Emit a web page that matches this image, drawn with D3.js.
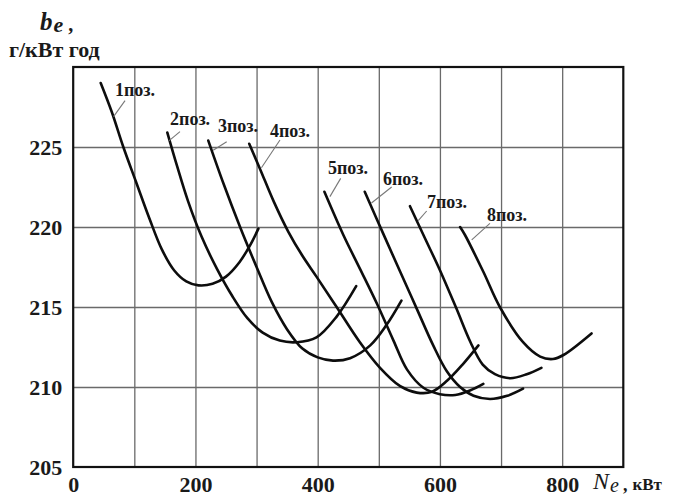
<!DOCTYPE html>
<html><head><meta charset="utf-8">
<script src="https://cdn.jsdelivr.net/npm/d3@7/dist/d3.min.js"></script>
<style>html,body{margin:0;padding:0;background:#fff;} svg{display:block;}</style>
</head><body>
<svg id="c" width="674" height="496"></svg>
<script>
// ---- data (Ne, кВт ; be, г/кВт·год) ----
const xTicks = [0, 200, 400, 600, 800];
const yTicks = [205, 210, 215, 220, 225];
const xGrid = [100, 200, 300, 400, 500, 600, 700, 800];
const yGrid = [210, 215, 220, 225];
const positionNames = ["1поз.", "2поз.", "3поз.", "4поз.", "5поз.", "6поз.", "7поз.", "8поз."];

const pos1 = [[45,229],[63,227.2],[82,225],[103,222.8],[125,220.5],[145,218.6],[165,217.3],[185,216.6],[205,216.35],[228,216.45],[250,216.9],[272,217.8],[290,218.9],[303,219.9]];
const pos2 = [[154,225.9],[170,223.8],[188,221.6],[210,219.4],[235,217.4],[260,215.7],[285,214.3],[310,213.4],[338,212.9],[366,212.8],[398,213.1],[431,214.4],[463,216.3]];
const pos3 = [[221,225.4],[246,222.7],[273,220.0],[300,217.5],[325,215.3],[350,213.6],[375,212.4],[400,211.85],[425,211.65],[453,211.8],[486,212.6],[513,213.9],[537,215.4]];
const pos4 = [[288,225.2],[306,223.6],[328,221.6],[352,219.7],[375,218.2],[398,216.9],[431,215.0],[469,212.8],[502,211.2],[535,210.05],[562,209.65],[587,209.7],[612,210.4],[637,211.4],[663,212.6]];
const pos5 = [[411,222.2],[442,219.5],[469,217.4],[497,215.2],[524,212.9],[546,211.1],[573,209.95],[600,209.55],[625,209.5],[650,209.8],[671,210.2]];
const pos6 = [[477,222.2],[507,219.6],[535,217.2],[562,214.9],[589,212.6],[611,211.0],[633,210.0],[655,209.45],[682,209.25],[710,209.45],[736,209.9]];
const pos7 = [[551,221.3],[573,219.5],[600,217.3],[627,214.9],[650,212.8],[670,211.4],[690,210.8],[715,210.55],[742,210.8],[766,211.2]];
const pos8 = [[633,220.0],[641,219.5],[671,217.2],[698,215.0],[736,212.8],[764,211.9],[785,211.75],[802,212.0],[848,213.35]];
const curves = [pos1, pos2, pos3, pos4, pos5, pos6, pos7, pos8];

// label annotations in data units: leader from curve point to leader top, text anchor
const leaderCurve = [[66,226.9],[157,225.4],[229,224.8],[308,223.7],[420,221.9],[488,221.5],[564.5,220.4],[652,219.2]];
const leaderTop   = [[84.8,227.9],[174.7,225.96],[251.1,225.33],[338.3,225.44],[437.6,223.04],[521,222.5],[578.3,221.0],[681.8,220.23]];
const labelAt     = [[68.4,228.16],[158.4,226.375],[236.9,225.94],[321.9,225.625],[416.8,223.3],[506.8,222.6],[578.8,221.2],[676.9,220.4]];

// ---- drawing ----
const svg = d3.select("#c");
const x = d3.scaleLinear().domain([0, 900]).range([73.2, 623.3]);
const y = d3.scaleLinear().domain([205, 230]).range([467, 67]);
const serif = "'Liberation Serif','Times New Roman',serif";

// grid
svg.append("g").attr("transform", `translate(0,${y(205)})`)
  .call(d3.axisBottom(x).tickValues(xGrid).tickSize(-(y(205) - y(230))).tickFormat(""))
  .call(g => g.select(".domain").remove())
  .call(g => g.selectAll("line").attr("stroke", "#6a6a6a").attr("stroke-width", 1.3));
svg.append("g").attr("transform", `translate(${x(0)},0)`)
  .call(d3.axisLeft(y).tickValues(yGrid).tickSize(-(x(900) - x(0))).tickFormat(""))
  .call(g => g.select(".domain").remove())
  .call(g => g.selectAll("line").attr("stroke", "#6a6a6a").attr("stroke-width", 1.3));

// frame
svg.append("rect").attr("x", x(0)).attr("y", y(230))
  .attr("width", x(900) - x(0)).attr("height", y(205) - y(230))
  .attr("fill", "none").attr("stroke", "#111").attr("stroke-width", 2.2);

// tick labels
svg.append("g").attr("transform", `translate(${x(0) - 11},0)`)
  .call(d3.axisLeft(y).tickValues(yTicks).tickSize(0).tickPadding(0).tickFormat(d3.format("d")))
  .call(g => g.select(".domain").remove())
  .call(g => g.selectAll("text").attr("font-family", serif).attr("font-weight", "bold")
     .attr("font-size", 22).attr("fill", "#1a1a1a").attr("dy", "0.33em"));
svg.append("g").attr("transform", `translate(0,${y(205)})`)
  .call(d3.axisBottom(x).tickValues(xTicks).tickSize(0).tickPadding(0).tickFormat(d3.format("d")))
  .call(g => g.select(".domain").remove())
  .call(g => g.selectAll("text").attr("font-family", serif).attr("font-weight", "bold")
     .attr("font-size", 22).attr("fill", "#1a1a1a").attr("dy", null).attr("y", 25));

// axis titles
const xt = svg.append("text").attr("font-family", serif).attr("fill", "#1a1a1a");
xt.append("tspan").attr("x", 593).attr("y", 489).attr("font-style", "italic").attr("font-size", 24).text("N");
xt.append("tspan").attr("dx", 1).attr("dy", 3).attr("font-style", "italic").attr("font-size", 20).text("e");
xt.append("tspan").attr("dx", 4).attr("dy", -1).attr("font-weight", "bold").attr("font-size", 18).text(",");
xt.append("tspan").attr("dx", 5).attr("dy", -1).attr("font-weight", "bold").attr("font-size", 17).text("кВт");

const yt = svg.append("text").attr("font-family", serif).attr("fill", "#1a1a1a").attr("font-weight", "bold");
yt.append("tspan").attr("x", 40).attr("y", 30).attr("font-style", "italic").attr("font-size", 25).text("b");
yt.append("tspan").attr("dx", 1).attr("dy", 2).attr("font-style", "italic").attr("font-size", 22).text("e");
yt.append("tspan").attr("dx", 5).attr("dy", -1).attr("font-size", 20).text(",");
svg.append("text").attr("x", 9).attr("y", 57).attr("font-family", serif).attr("font-weight", "bold")
  .attr("font-size", 22).attr("fill", "#1a1a1a").text("г/кВт год");

// curves
const line = d3.line().x(d => x(d[0])).y(d => y(d[1])).curve(d3.curveCatmullRom.alpha(0.5));
svg.append("g").selectAll("path").data(curves).join("path")
  .attr("d", line).attr("fill", "none").attr("stroke", "#0d0d0d")
  .attr("stroke-width", 2.6).attr("stroke-linecap", "round");

// leaders and labels
svg.append("g").selectAll("line").data(leaderCurve).join("line")
  .attr("x1", d => x(d[0])).attr("y1", d => y(d[1]))
  .attr("x2", (d, i) => x(leaderTop[i][0])).attr("y2", (d, i) => y(leaderTop[i][1]))
  .attr("stroke", "#777").attr("stroke-width", 1.1);
svg.append("g").selectAll("text").data(positionNames).join("text")
  .attr("x", (d, i) => x(labelAt[i][0])).attr("y", (d, i) => y(labelAt[i][1]))
  .attr("font-family", serif).attr("font-weight", "bold").attr("font-size", 18)
  .attr("fill", "#1a1a1a").text(d => d);
</script>
</body></html>
